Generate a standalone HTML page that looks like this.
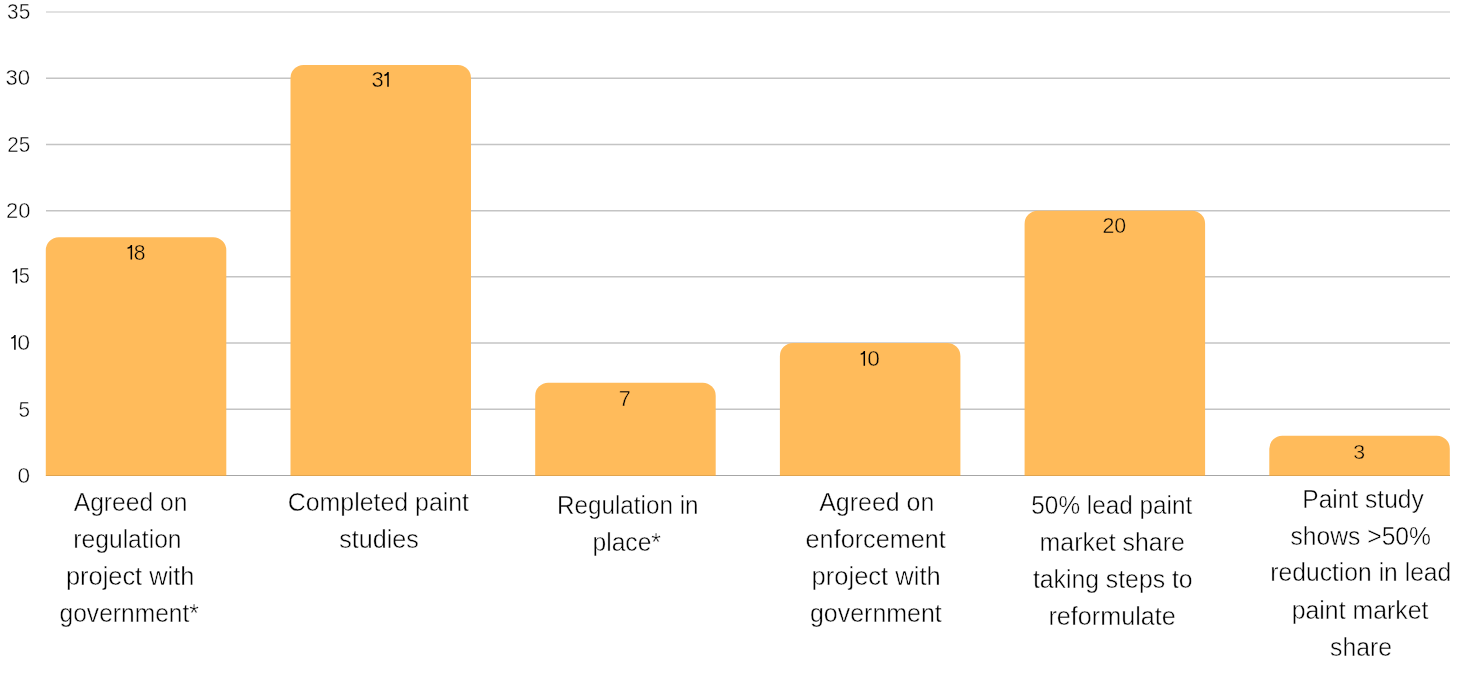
<!DOCTYPE html><html><head><meta charset="utf-8"><style>html,body{margin:0;padding:0;background:#fff;overflow:hidden}svg{display:block;will-change:transform}text{font-family:"Liberation Sans",sans-serif;fill:#000000}</style></head><body>
<svg width="1469" height="675" viewBox="0 0 1469 675">
<line x1="46" x2="1450" y1="409.26" y2="409.26" stroke="#c4c4c4" stroke-width="1.5"/>
<line x1="46" x2="1450" y1="343.06" y2="343.06" stroke="#c4c4c4" stroke-width="1.5"/>
<line x1="46" x2="1450" y1="276.87" y2="276.87" stroke="#c4c4c4" stroke-width="1.5"/>
<line x1="46" x2="1450" y1="210.68" y2="210.68" stroke="#c4c4c4" stroke-width="1.5"/>
<line x1="46" x2="1450" y1="144.49" y2="144.49" stroke="#c4c4c4" stroke-width="1.5"/>
<line x1="46" x2="1450" y1="78.29" y2="78.29" stroke="#c4c4c4" stroke-width="1.5"/>
<line x1="46" x2="1450" y1="12.10" y2="12.10" stroke="#d8d8d8" stroke-width="1.5"/>
<line x1="46" x2="1450" y1="475.5" y2="475.5" stroke="#a6a6a6" stroke-width="1"/>
<path d="M45.80,476 V250.16 A13,13 0 0 1 58.80,237.16 H213.30 A13,13 0 0 1 226.30,250.16 V476 Z" fill="#FFBB5B"/>
<path d="M290.50,476 V78.05 A13,13 0 0 1 303.50,65.05 H458.00 A13,13 0 0 1 471.00,78.05 V476 Z" fill="#FFBB5B"/>
<path d="M535.20,476 V395.78 A13,13 0 0 1 548.20,382.78 H702.70 A13,13 0 0 1 715.70,395.78 V476 Z" fill="#FFBB5B"/>
<path d="M779.90,476 V356.06 A13,13 0 0 1 792.90,343.06 H947.40 A13,13 0 0 1 960.40,356.06 V476 Z" fill="#FFBB5B"/>
<path d="M1024.60,476 V223.68 A13,13 0 0 1 1037.60,210.68 H1192.10 A13,13 0 0 1 1205.10,223.68 V476 Z" fill="#FFBB5B"/>
<path d="M1269.30,476 V448.73 A13,13 0 0 1 1282.30,435.73 H1436.80 A13,13 0 0 1 1449.80,448.73 V476 Z" fill="#FFBB5B"/>
<line x1="45.80" x2="226.30" y1="475.5" y2="475.5" stroke="#000" stroke-opacity="0.12" stroke-width="1"/>
<line x1="290.50" x2="471.00" y1="475.5" y2="475.5" stroke="#000" stroke-opacity="0.12" stroke-width="1"/>
<line x1="535.20" x2="715.70" y1="475.5" y2="475.5" stroke="#000" stroke-opacity="0.12" stroke-width="1"/>
<line x1="779.90" x2="960.40" y1="475.5" y2="475.5" stroke="#000" stroke-opacity="0.12" stroke-width="1"/>
<line x1="1024.60" x2="1205.10" y1="475.5" y2="475.5" stroke="#000" stroke-opacity="0.12" stroke-width="1"/>
<line x1="1269.30" x2="1449.80" y1="475.5" y2="475.5" stroke="#000" stroke-opacity="0.12" stroke-width="1"/>
<text transform="translate(7.06,18.70) scale(0.9462,0.9804)" font-size="22" stroke="#fff" stroke-width="0.45">35</text>
<text transform="translate(5.39,84.70) scale(1.0090,0.9869)" font-size="22" stroke="#fff" stroke-width="0.45">30</text>
<text transform="translate(7.28,151.70) scale(0.9412,0.9934)" font-size="22" stroke="#fff" stroke-width="0.45">25</text>
<text transform="translate(5.90,217.80) scale(1.0000,0.9869)" font-size="22" stroke="#fff" stroke-width="0.45">20</text>
<text transform="translate(18.57,416.90) scale(0.9400,1.0132)" font-size="22" stroke="#fff" stroke-width="0.45">5</text>
<text transform="translate(17.47,482.80) scale(1.0294,0.9869)" font-size="22" stroke="#fff" stroke-width="0.45">0</text>
<path d="M17.20,268.70 L17.20,283.40 L15.70,283.40 L15.70,271.60 Q14.75,272.40 12.70,272.60 L12.70,271.20 Q14.95,270.90 16.00,268.70 Z" fill="#000000"/>
<text transform="translate(18.70,283.40) scale(0.9100,0.9801)" font-size="22" stroke="#fff" stroke-width="0.45">5</text>
<path d="M15.65,334.90 L15.65,349.70 L14.15,349.70 L14.15,337.80 Q13.20,338.60 11.20,338.80 L11.20,337.40 Q13.40,337.10 14.45,334.90 Z" fill="#000000"/>
<text transform="translate(17.25,349.70) scale(1.0490,0.9739)" font-size="22" stroke="#fff" stroke-width="0.45">0</text>
<path d="M132.10,244.90 L132.10,259.60 L130.60,259.60 L130.60,247.80 Q129.65,248.60 127.50,248.80 L127.50,247.40 Q129.85,247.10 130.90,244.90 Z" fill="#000000"/>
<text transform="translate(133.84,259.60) scale(0.9600,0.9673)" font-size="22" stroke="#FFBB5B" stroke-width="0.45">8</text>
<text transform="translate(371.40,86.70) scale(1.0000,0.9673)" font-size="22" stroke="#FFBB5B" stroke-width="0.45">3</text>
<path d="M388.75,72.00 L388.75,86.70 L387.25,86.70 L387.25,74.90 Q386.30,75.70 384.40,75.90 L384.40,74.50 Q386.50,74.20 387.55,72.00 Z" fill="#000000"/>
<text transform="translate(618.81,405.70) scale(0.9896,0.9866)" font-size="22" stroke="#FFBB5B" stroke-width="0.45">7</text>
<path d="M865.05,350.90 L865.05,365.70 L863.55,365.70 L863.55,353.80 Q862.60,354.60 860.70,354.80 L860.70,353.40 Q862.80,353.10 863.85,350.90 Z" fill="#000000"/>
<text transform="translate(867.27,365.70) scale(1.0294,0.9739)" font-size="22" stroke="#FFBB5B" stroke-width="0.45">0</text>
<text transform="translate(1102.44,232.70) scale(0.9683,0.9739)" font-size="22" stroke="#FFBB5B" stroke-width="0.45">20</text>
<text transform="translate(1353.23,458.70) scale(0.9700,0.9608)" font-size="22" stroke="#FFBB5B" stroke-width="0.45">3</text>
<text transform="translate(73.71,511.00) scale(0.9867,1)" font-size="25" stroke="#fff" stroke-width="0.45">Agreed on</text>
<text transform="translate(73.33,547.90) scale(0.9859,1)" font-size="25" stroke="#fff" stroke-width="0.45">regulation</text>
<text transform="translate(65.97,584.70) scale(1.0155,1)" font-size="25" stroke="#fff" stroke-width="0.45">project with</text>
<text transform="translate(59.52,621.80) scale(0.9836,1)" font-size="25" stroke="#fff" stroke-width="0.45">government*</text>
<text transform="translate(287.76,510.80) scale(0.9964,1)" font-size="25" stroke="#fff" stroke-width="0.45">Completed paint</text>
<text transform="translate(339.29,547.80) scale(1.0052,1)" font-size="25" stroke="#fff" stroke-width="0.45">studies</text>
<text transform="translate(556.97,514.00) scale(0.9704,1)" font-size="25" stroke="#fff" stroke-width="0.45">Regulation in</text>
<text transform="translate(592.53,550.60) scale(0.9851,1)" font-size="25" stroke="#fff" stroke-width="0.45">place*</text>
<text transform="translate(819.20,511.00) scale(0.9991,1)" font-size="25" stroke="#fff" stroke-width="0.45">Agreed on</text>
<text transform="translate(805.59,547.90) scale(1.0095,1)" font-size="25" stroke="#fff" stroke-width="0.45">enforcement</text>
<text transform="translate(811.56,584.70) scale(1.0220,1)" font-size="25" stroke="#fff" stroke-width="0.45">project with</text>
<text transform="translate(810.00,621.80) scale(0.9977,1)" font-size="25" stroke="#fff" stroke-width="0.45">government</text>
<text transform="translate(1031.33,513.70) scale(0.9737,1)" font-size="25" stroke="#fff" stroke-width="0.45">50% lead paint</text>
<text transform="translate(1039.61,550.70) scale(0.9958,1)" font-size="25" stroke="#fff" stroke-width="0.45">market share</text>
<text transform="translate(1032.91,587.90) scale(0.9906,1)" font-size="25" stroke="#fff" stroke-width="0.45">taking steps to</text>
<text transform="translate(1048.49,624.80) scale(1.0073,1)" font-size="25" stroke="#fff" stroke-width="0.45">reformulate</text>
<text transform="translate(1302.34,508.00) scale(0.9818,1)" font-size="25" stroke="#fff" stroke-width="0.45">Paint study</text>
<text transform="translate(1290.51,544.60) scale(0.9865,1)" font-size="25" stroke="#fff" stroke-width="0.45">shows &gt;50%</text>
<text transform="translate(1270.33,581.30) scale(0.9866,1)" font-size="25" stroke="#fff" stroke-width="0.45">reduction in lead</text>
<text transform="translate(1291.71,618.80) scale(0.9941,1)" font-size="25" stroke="#fff" stroke-width="0.45">paint market</text>
<text transform="translate(1330.11,655.90) scale(0.9900,1)" font-size="25" stroke="#fff" stroke-width="0.45">share</text>
</svg></body></html>
